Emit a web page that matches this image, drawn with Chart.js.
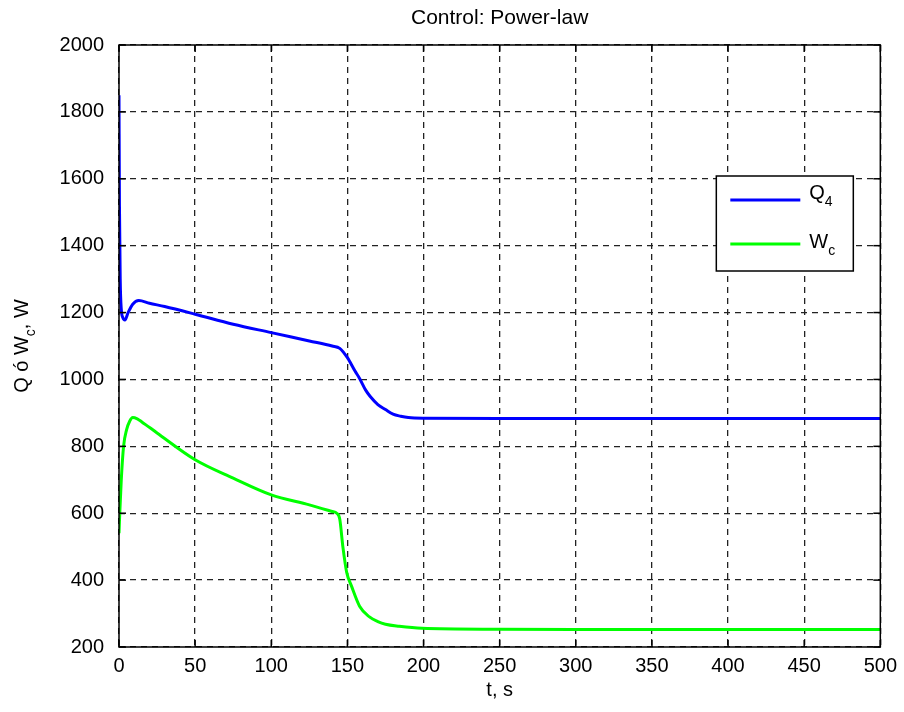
<!DOCTYPE html>
<html>
<head>
<meta charset="utf-8">
<script src="https://cdn.jsdelivr.net/npm/chart.js@4.4.0/dist/chart.umd.min.js"></script>
<style>
body { margin: 0; background: #fff; }
canvas { display: block; }
</style>
</head>
<body>
<canvas id="powerLaw" width="904" height="712"></canvas>
<script>
// values
var tQ = [0, 0.3, 0.8, 1.5, 2.5, 3.9, 6, 9, 13, 20, 30, 50, 75, 100, 125, 140, 145, 150, 155, 158, 162, 165, 170, 175, 180, 185, 190, 200, 250, 300, 400, 500];
var q4 = [1850, 1520, 1300, 1210, 1185, 1178, 1200, 1225, 1236, 1228, 1218, 1195, 1165, 1140, 1115, 1100, 1093, 1065, 1025, 1003, 968, 949, 925, 910, 896, 890, 886, 884, 883, 883, 883, 883];

var tW = [0, 0.5, 1.5, 3, 5, 7, 9, 12, 15, 25, 50, 75, 100, 125, 140, 143, 145, 147, 149.5, 152.7, 158, 164.5, 170, 175, 184, 199, 250, 300, 400, 500];
var wc = [540, 600, 700, 800, 850, 875, 886, 882, 873, 840, 760, 705, 655, 625, 605, 600, 582, 501, 424, 382, 322, 290, 276, 268, 262, 256, 253, 252, 252, 252];

var xTicks = [0, 50, 100, 150, 200, 250, 300, 350, 400, 450, 500];
var yTicks = [200, 400, 600, 800, 1000, 1200, 1400, 1600, 1800, 2000];

var FONT = "'Liberation Sans', Arial, sans-serif";

function pts(xs, ys) {
	return xs.map(function (x, i) { return { x: x, y: ys[i] }; });
}

function line(ctx, x1, y1, x2, y2) {
	ctx.beginPath();
	ctx.moveTo(x1, y1);
	ctx.lineTo(x2, y2);
	ctx.stroke();
}

// text with a subscript piece: parts = [[text, isSub], ...]
function subText(ctx, parts, x, y, size, align) {
	var w = 0;
	parts.forEach(function (p) {
		ctx.font = (p[1] ? size * 0.7 : size) + "px " + FONT;
		w += ctx.measureText(p[0]).width;
	});
	var cx = align === 'center' ? x - w / 2 : x;
	parts.forEach(function (p) {
		ctx.font = (p[1] ? size * 0.7 : size) + "px " + FONT;
		ctx.fillText(p[0], cx, p[1] ? y + size * 0.45 : y);
		cx += ctx.measureText(p[0]).width;
	});
}

var matlabFrame = {
	id: 'matlabFrame',
	beforeDraw: function (chart) {
		var ctx = chart.ctx;
		ctx.save();
		ctx.fillStyle = '#fff';
		ctx.fillRect(0, 0, chart.width, chart.height);
		ctx.restore();
	},
	afterDraw: function (chart) {
		var ctx = chart.ctx, a = chart.chartArea;
		var xs = chart.scales.x, ys = chart.scales.y;
		ctx.save();
		ctx.strokeStyle = '#000';
		ctx.lineWidth = 1.5;
		ctx.setLineDash([]);
		ctx.strokeRect(a.left, a.top, a.right - a.left, a.bottom - a.top);

		// inward ticks on all four sides
		xs.ticks.forEach(function (t) {
			var px = xs.getPixelForValue(t.value);
			line(ctx, px, a.bottom, px, a.bottom - 7);
			line(ctx, px, a.top, px, a.top + 7);
		});
		ys.ticks.forEach(function (t) {
			var py = ys.getPixelForValue(t.value);
			line(ctx, a.left, py, a.left + 7, py);
			line(ctx, a.right, py, a.right - 7, py);
		});

		ctx.fillStyle = '#000';
		ctx.textBaseline = 'middle';

		// title
		ctx.textAlign = 'center';
		ctx.font = "21px " + FONT;
		ctx.fillText('Control: Power-law', (a.left + a.right) / 2, 18);

		// x title
		ctx.font = "20px " + FONT;
		ctx.fillText('t, s', (a.left + a.right) / 2, 690);

		// y title
		ctx.save();
		ctx.translate(22, (a.top + a.bottom) / 2);
		ctx.rotate(-Math.PI / 2);
		ctx.textAlign = 'left';
		subText(ctx, [['Q ó W', false], ['c', true], [', W', false]], 0, 0, 20, 'center');
		ctx.restore();

		// legend
		var lx = a.right - 164, ly = a.top + 131;
		ctx.fillStyle = '#fff';
		ctx.fillRect(lx, ly, 137, 95);
		ctx.strokeRect(lx, ly, 137, 95);
		ctx.lineWidth = 3;
		ctx.strokeStyle = '#0000ff';
		line(ctx, lx + 14, ly + 24, lx + 84, ly + 24);
		ctx.strokeStyle = '#00ff00';
		line(ctx, lx + 14, ly + 68, lx + 84, ly + 68);
		ctx.fillStyle = '#000';
		ctx.textAlign = 'left';
		subText(ctx, [['Q', false], ['4', true]], lx + 93, ly + 17, 20, 'left');
		subText(ctx, [['W', false], ['c', true]], lx + 93, ly + 66, 20, 'left');
		ctx.restore();
	}
};

new Chart(document.getElementById('powerLaw').getContext('2d'), {
	type: 'line',
	data: {
		datasets: [{
			label: 'Q4',
			data: pts(tQ, q4),
			borderColor: '#0000ff',
			borderWidth: 3,
			pointRadius: 0,
			cubicInterpolationMode: 'monotone',
			fill: false
		}, {
			label: 'Wc',
			data: pts(tW, wc),
			borderColor: '#00ff00',
			borderWidth: 3,
			pointRadius: 0,
			cubicInterpolationMode: 'monotone',
			fill: false
		}]
	},
	options: {
		responsive: false,
		animation: false,
		layout: { padding: { top: 45, right: 19, left: 0, bottom: 0 } },
		plugins: {
			legend: { display: false },
			tooltip: { enabled: false }
		},
		scales: {
			x: {
				type: 'linear',
				min: 0,
				max: 500,
				afterBuildTicks: function (s) { s.ticks = xTicks.map(function (v) { return { value: v }; }); },
				afterFit: function (s) { s.height = 65; },
				grid: { color: '#222', lineWidth: 1.3, drawTicks: false },
				border: { display: false, dash: [6, 5] },
				ticks: { color: '#000', padding: 7, maxRotation: 0, font: { family: FONT, size: 20 } }
			},
			y: {
				min: 200,
				max: 2000,
				afterBuildTicks: function (s) { s.ticks = yTicks.map(function (v) { return { value: v }; }); },
				afterFit: function (s) { s.width = 119; },
				grid: { color: '#222', lineWidth: 1.3, drawTicks: false },
				border: { display: false, dash: [6, 5] },
				ticks: {
					color: '#000',
					padding: 15,
					font: { family: FONT, size: 20 },
					callback: function (v) { return String(v); }
				}
			}
		}
	},
	plugins: [matlabFrame]
});
</script>
</body>
</html>
